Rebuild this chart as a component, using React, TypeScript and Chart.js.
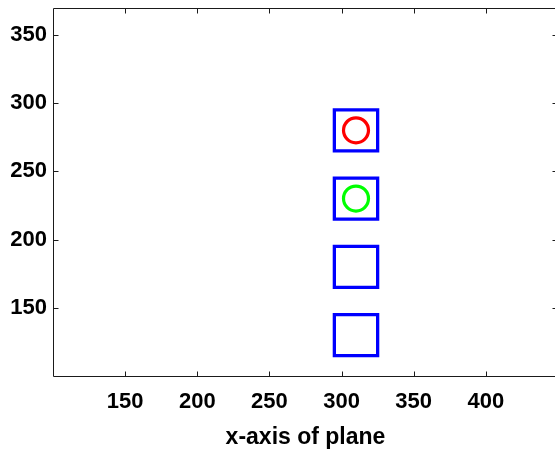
import React, { useEffect, useRef } from "react";
import { Chart, registerables } from "chart.js";

Chart.register(...registerables);

// Axis limits and tick values
const xLimits = [100, 450];
const yLimits = [100, 370];
const xTickValues = [150, 200, 250, 300, 350, 400];
const yTickValues = [150, 200, 250, 300, 350];
const xAxisTitle = "x-axis of plane";

// Blue squares: x span and y spans (data units)
const squareLeft = [295, 295, 295, 295];
const squareRight = [325, 325, 325, 325];
const squareBottom = [115, 165, 215, 265];
const squareTop = [145, 195, 245, 295];

// Circles
const circleX = [310, 310];
const circleY = [280, 230];
const circleColors = ["#ff0000", "#00ff00"];

const FONT = "'Liberation Sans', Arial, Helvetica, sans-serif";

const boxAndTicks = {
  id: "boxAndTicks",
  afterDraw(chart: any) {
    const { ctx, chartArea, scales } = chart;
    const { left, right, top, bottom } = chartArea;
    ctx.save();
    ctx.strokeStyle = "#1a1a1a";
    ctx.lineWidth = 1;
    const L = Math.round(left) + 0.5;
    const R = Math.round(right) - 0.5;
    const T = Math.round(top) + 0.5;
    const B = Math.round(bottom) + 0.5;
    ctx.beginPath();
    ctx.rect(L, T, R - L, B - T);
    ctx.stroke();
    const len = 5;
    ctx.beginPath();
    for (const v of xTickValues) {
      const px = Math.round(scales.x.getPixelForValue(v)) + 0.5;
      ctx.moveTo(px, B);
      ctx.lineTo(px, B - len);
      ctx.moveTo(px, T);
      ctx.lineTo(px, T + len);
    }
    for (const v of yTickValues) {
      const py = Math.round(scales.y.getPixelForValue(v)) + 0.5;
      ctx.moveTo(L, py);
      ctx.lineTo(L + len, py);
      ctx.moveTo(R, py);
      ctx.lineTo(R - len, py);
    }
    ctx.stroke();
    ctx.restore();
  },
};

const zeroPadding = (s: any) => {
  s.paddingLeft = 0;
  s.paddingRight = 0;
  s.paddingTop = 0;
  s.paddingBottom = 0;
};

export default function App() {
  const ref = useRef<HTMLCanvasElement>(null);
  useEffect(() => {
    if (!ref.current) return;
    const datasets: any[] = [];
    for (let i = 0; i < circleX.length; i++) {
      datasets.push({
        type: "scatter",
        data: [{ x: circleX[i], y: circleY[i] }],
        pointRadius: 12.5,
        pointHoverRadius: 12.5,
        pointBorderWidth: 3.2,
        pointBorderColor: circleColors[i],
        pointBackgroundColor: "rgba(0,0,0,0)",
        borderColor: circleColors[i],
        backgroundColor: "rgba(0,0,0,0)",
      });
    }
    for (let i = 0; i < squareLeft.length; i++) {
      const l = squareLeft[i], r = squareRight[i], b = squareBottom[i], t = squareTop[i];
      datasets.push({
        type: "scatter",
        showLine: true,
        data: [
          { x: l, y: t },
          { x: r, y: t },
          { x: r, y: b },
          { x: l, y: b },
          { x: l, y: t },
          { x: r, y: t },
        ],
        borderColor: "#0000ff",
        borderWidth: 3.3,
        borderJoinStyle: "miter",
        pointRadius: 0,
        fill: false,
        tension: 0,
      });
    }
    const chart = new Chart(ref.current, {
      type: "scatter",
      data: { datasets },
      plugins: [boxAndTicks],
      options: {
        responsive: false,
        animation: false,
        devicePixelRatio: 1,
        layout: { autoPadding: false, padding: { top: 7.5, right: 2, left: 0, bottom: 0 } },
        plugins: { legend: { display: false }, tooltip: { enabled: false } },
        scales: {
          x: {
            type: "linear",
            min: xLimits[0],
            max: xLimits[1],
            grid: { display: false, drawTicks: false },
            border: { display: false },
            afterBuildTicks: (s: any) => {
              s.ticks = xTickValues.map((v) => ({ value: v }));
            },
            afterFit: (s: any) => {
              s.height = 83;
              zeroPadding(s);
            },
            ticks: {
              color: "#000",
              padding: 13,
              maxRotation: 0,
              font: { family: FONT, size: 22, weight: "bold" },
            },
            title: {
              display: true,
              text: xAxisTitle,
              color: "#000",
              padding: { top: 0, bottom: 8 },
              font: { family: FONT, size: 23, weight: "bold" },
            },
          },
          y: {
            type: "linear",
            min: yLimits[0],
            max: yLimits[1],
            grid: { display: false, drawTicks: false },
            border: { display: false },
            afterBuildTicks: (s: any) => {
              s.ticks = yTickValues.map((v) => ({ value: v }));
            },
            afterFit: (s: any) => {
              s.width = 53;
              zeroPadding(s);
            },
            ticks: {
              color: "#000",
              padding: 6,
              font: { family: FONT, size: 22, weight: "bold" },
            },
          },
        },
      } as any,
    });
    return () => chart.destroy();
  }, []);
  return (
    <div style={{ position: "fixed", left: 0, top: 0, width: 560, height: 459, background: "#fff" }}>
      <canvas ref={ref} width={560} height={459} style={{ display: "block" }} />
    </div>
  );
}
